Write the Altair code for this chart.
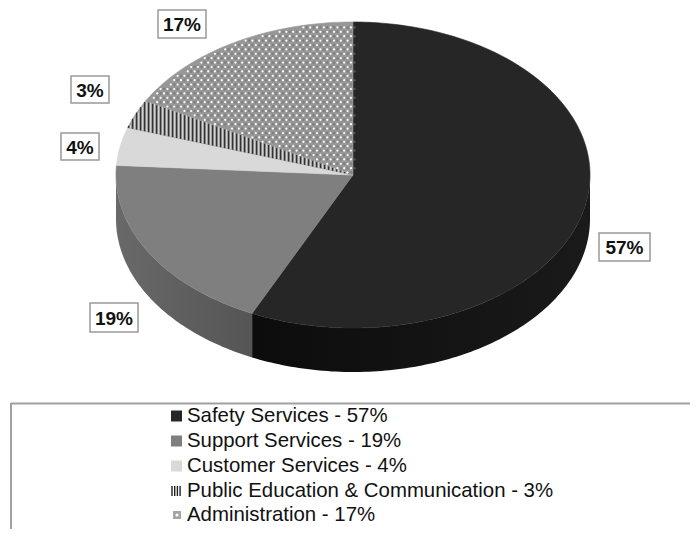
import numpy as np
import pandas as pd
import altair as alt

categories = ["Safety Services", "Support Services", "Customer Services",
              "Public Education & Communication", "Administration"]
shares = [57, 19, 4, 3, 17]
top_colors = ["#262626", "#7f7f7f", "#d9d9d9", "#a6a6a6", "#979797"]
side_colors = [("#1a1a1a", "#0c0c0c"), ("#555555", "#696969")]
label_text = ["57%", "19%", "4%", "3%", "17%"]
label_boxes = [(599, 650, 233, 261), (90, 138, 303, 332), (61, 99, 133, 160),
               (71, 109, 76, 103), (158, 206, 10, 38)]
legend_rows = [416, 441, 466, 491, 515]

W, H = 682, 521
OX, OY = 8, 8
CX, CY = 353 - OX, 175 - OY
RX, RY = 237.0, 153.0
DEPTH = 44.0 / RY

xs = alt.Scale(domain=[-CX / RX, (W - CX) / RX], nice=False, zero=False)
ys = alt.Scale(domain=[(CY - H) / RY, CY / RY], nice=False, zero=False)
X = alt.X("x:Q", scale=xs, axis=None)
Y = alt.Y("y:Q", scale=ys, axis=None)

edges = np.cumsum([0] + shares) / 100 * 2 * np.pi


def arc(a, b):
    n = max(2, int(np.degrees(b - a)) + 1)
    t = np.linspace(a, b, n)
    return np.sin(t), np.cos(t)


def poly(px, py, color, stroke=None):
    df = pd.DataFrame({"x": px, "y": py, "i": np.arange(len(px))})
    return alt.Chart(df).mark_line(
        fill=color, stroke=stroke if stroke else "transparent",
        strokeWidth=0.6 if stroke else 0, interpolate="linear-closed"
    ).encode(x=X, y=Y, order=alt.Order("i:Q"))


layers = []

# visible side wall: front half of the disc
for idx, (c0, c1) in enumerate(side_colors):
    a = max(edges[idx], np.pi / 2)
    b = min(edges[idx + 1], 3 * np.pi / 2)
    sx, sy = arc(a, b)
    grad = alt.Gradient(gradient="linear", x1=1, x2=0, y1=0, y2=0,
                        stops=[alt.GradientStop(color=c0, offset=0),
                               alt.GradientStop(color=c1, offset=1)])
    layers.append(poly(np.r_[sx, sx[::-1]], np.r_[sy, sy[::-1] - DEPTH], grad))

# top surface wedges
for idx in range(len(shares)):
    sx, sy = arc(edges[idx], edges[idx + 1])
    layers.append(poly(np.r_[0, sx], np.r_[0, sy], top_colors[idx], top_colors[idx]))

# vertical hatch of the Public Education wedge
a, b = edges[3], edges[4]
hx, hy = arc(a, b)
hatch = []
for dx in np.arange(hx.min() * RX + 1, -3, 4.0):
    u = dx / RX
    low = u * np.cos(a) / np.sin(a)
    up = u * np.cos(b) / np.sin(b)
    lim = np.sqrt(max(0.0, 1 - u * u))
    hatch.append({"x": u, "y": min(low, up), "y2": min(max(low, up), lim)})
hatch = pd.DataFrame(hatch)
white_lines = hatch.assign(x=hatch.x + 2.0 / RX)
layers.append(alt.Chart(hatch).mark_rule(color="#333333", strokeWidth=1.4).encode(x=X, y=Y, y2="y2:Q"))
layers.append(alt.Chart(white_lines).mark_rule(color="#efefef", strokeWidth=0.7).encode(x=X, y=Y, y2="y2:Q"))

# dotted pattern of the Administration wedge
a, b = edges[4], edges[5]
dots = []
for r, vy in enumerate(np.arange(-2, 156, 4.4)):
    for dx in np.arange(-240 + (r % 2) * 3.4, 2, 6.8):
        u, v = dx / RX, vy / RY
        t = np.arctan2(u, v) % (2 * np.pi)
        if u * u + v * v < 0.985 and a + 0.012 < t < b - 0.004:
            dots.append({"x": u, "y": v})
dots = pd.DataFrame(dots)
layers.append(alt.Chart(dots).mark_circle(color="#ffffff", size=5, opacity=1).encode(x=X, y=Y))
layers.append(alt.Chart(dots.assign(x=dots.x + 3.4 / RX)).mark_circle(color="#6f6f6f", size=7, opacity=0.6).encode(x=X, y=Y))

# data labels
for txt, (x0, x1, y0, y1) in zip(label_text, label_boxes):
    base = alt.Chart(pd.DataFrame({"t": [txt]}))
    layers.append(base.mark_rect(fill="white", stroke="#999999", strokeWidth=1.5).encode(
        x=alt.value(x0 - OX), x2=alt.value(x1 - OX), y=alt.value(y0 - OY), y2=alt.value(y1 - OY)))
    layers.append(base.mark_text(font="Liberation Sans", fontWeight="bold", fontSize=19,
                                 color="#111111", align="center", baseline="middle").encode(
        x=alt.value((x0 + x1) / 2 - OX), y=alt.value((y0 + y1) / 2 - OY + 1), text="t:N"))

# legend frame
frame = alt.Chart(pd.DataFrame({"a": [0]}))
layers.append(frame.mark_rule(color="#a0a0a0", strokeWidth=2).encode(
    x=alt.value(11 - OX), x2=alt.value(W), y=alt.value(403.5 - OY)))
layers.append(frame.mark_rule(color="#a0a0a0", strokeWidth=2).encode(
    x=alt.value(11 - OX), y=alt.value(403 - OY), y2=alt.value(H)))

# legend entries
swatch_colors = ["#262626", "#7f7f7f", "#d9d9d9"]
for i, (cat, sh, yy) in enumerate(zip(categories, shares, legend_rows)):
    row = alt.Chart(pd.DataFrame({"t": [f"{cat} - {sh}%"]}))
    yc = yy - OY
    if i < 3:
        layers.append(row.mark_rect(fill=swatch_colors[i]).encode(
            x=alt.value(171 - OX), x2=alt.value(182 - OX), y=alt.value(yc - 5.5), y2=alt.value(yc + 5.5)))
    elif i == 3:
        for k in range(4):
            xk = 172 + k * 2.7 - OX
            layers.append(row.mark_rule(color="#222222", strokeWidth=1.4).encode(
                x=alt.value(xk), y=alt.value(yc - 5), y2=alt.value(yc + 5)))
    else:
        layers.append(row.mark_rect(fill="#a5a5a5").encode(
            x=alt.value(173 - OX), x2=alt.value(181 - OX), y=alt.value(yc - 4), y2=alt.value(yc + 4)))
        layers.append(row.mark_circle(color="#ffffff", size=10, opacity=1).encode(
            x=alt.value(177 - OX), y=alt.value(yc)))
    layers.append(row.mark_text(font="Liberation Sans", fontSize=20.4, color="#111111",
                                align="left", baseline="middle").encode(
        x=alt.value(187 - OX), y=alt.value(yc), text="t:N"))

chart = alt.layer(*layers).properties(
    width=W, height=H, padding=0,
    autosize=alt.AutoSizeParams(type="none"),
).configure_view(stroke=None)

chart.save("out.html", embed_options={"renderer": "svg", "actions": False})
